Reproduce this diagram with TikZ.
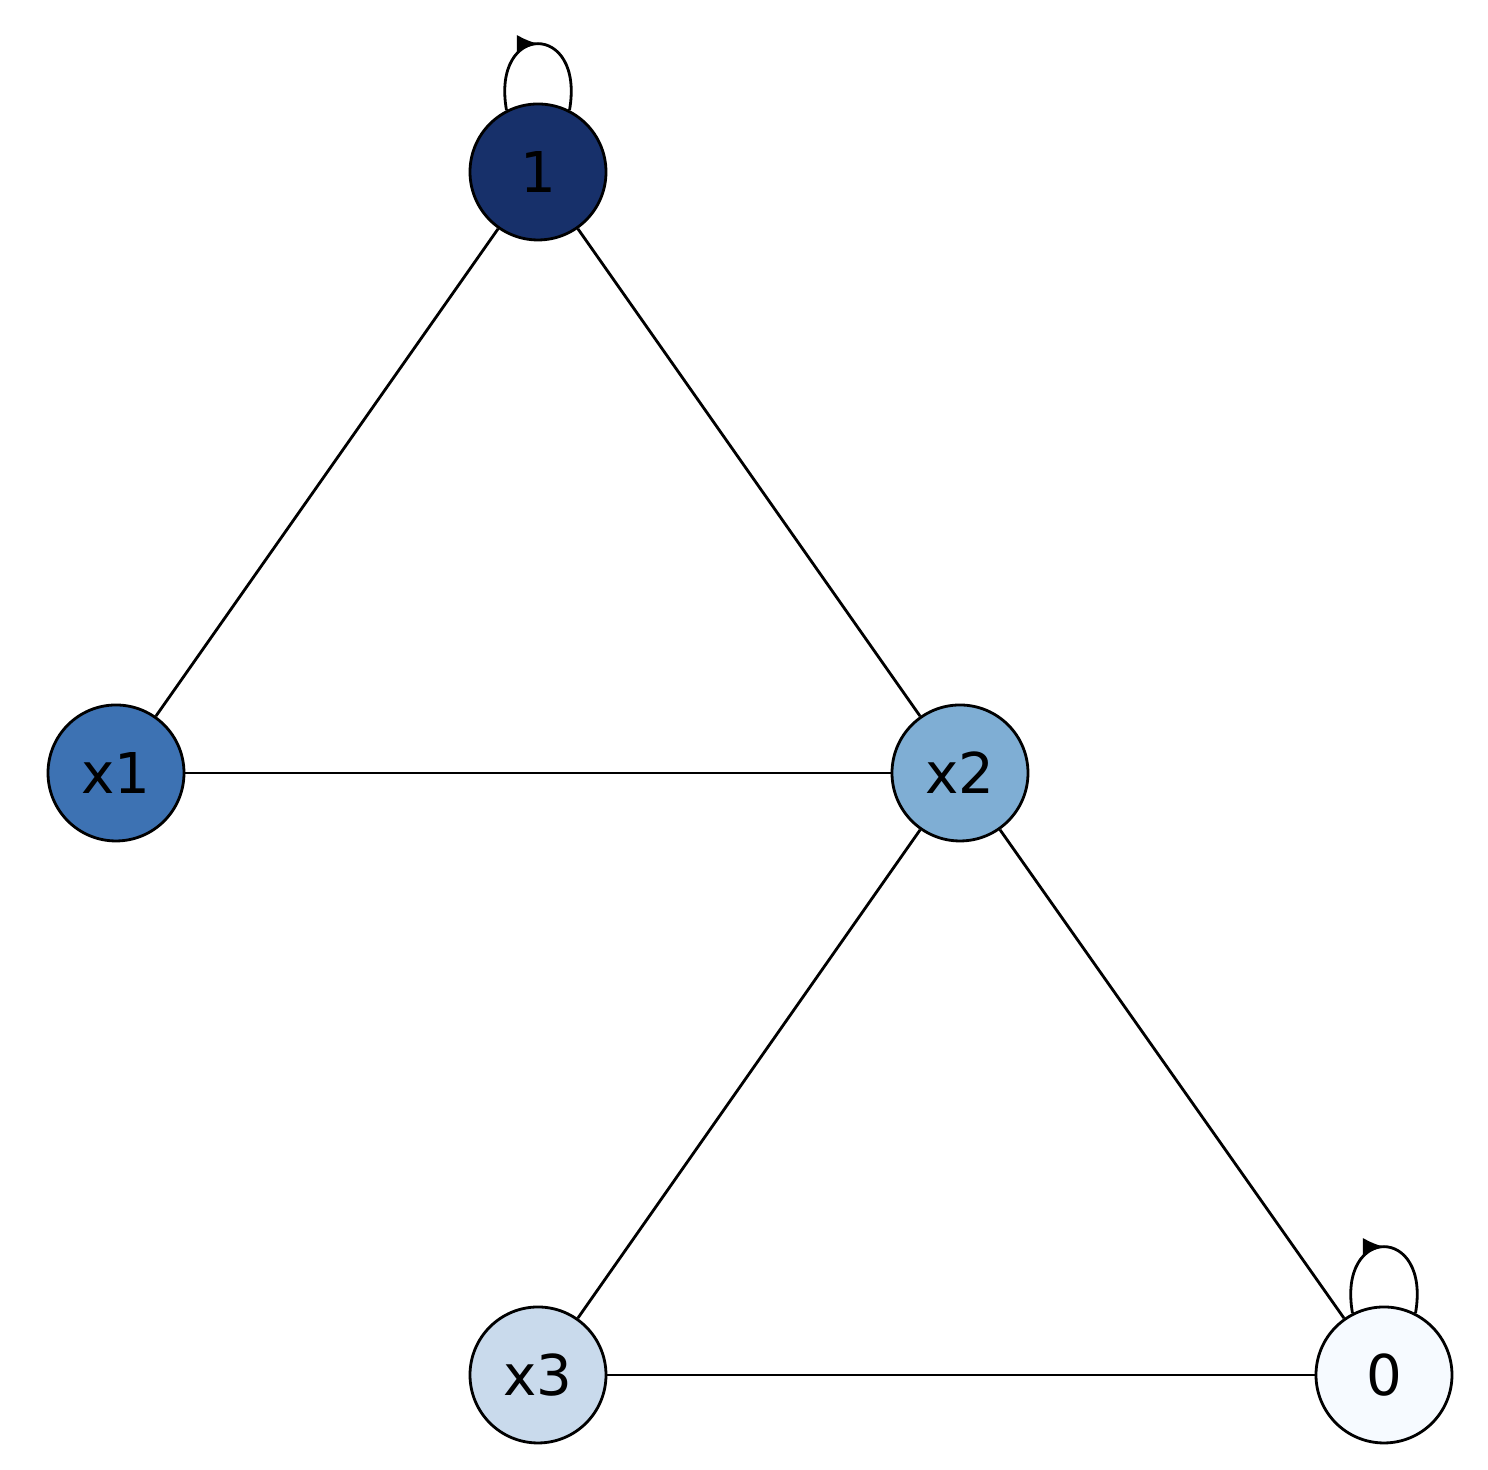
\documentclass[tikz,border=0pt]{standalone}
\usepackage{fontspec}
\setmainfont{DejaVu Sans}
\usetikzlibrary{arrows.meta,decorations.markings}

\definecolor{cone}{HTML}{17306A}
\definecolor{cxone}{HTML}{3D72B3}
\definecolor{cxtwo}{HTML}{7FAED4}
\definecolor{cxthree}{HTML}{C9DAEC}
\definecolor{czero}{HTML}{F6FAFF}

\tikzset{
    vert/.style={circle,draw=black,line width=0.8pt,minimum size=1.36cm,inner sep=0pt,
                 font=\fontsize{16}{18}\selectfont},
    link/.style={line width=0.8pt},
    selfloop/.style={line width=0.8pt,postaction={decorate},
        decoration={markings,mark=at position 0.5 with {\arrow{Latex[length=6pt,width=5pt]}}}}
}

\begin{document}
\begin{tikzpicture}
        \useasboundingbox (0,0) rectangle (14.88,14.70);

        \node[vert,fill=cone]    (n1) at (5.38,12.98) {1};
        \node[vert,fill=cxone]   (x1) at (1.16,6.97)  {x1};
        \node[vert,fill=cxtwo]   (x2) at (9.60,6.97)  {x2};
        \node[vert,fill=cxthree] (x3) at (5.38,0.95)  {x3};
        \node[vert,fill=czero]   (n0) at (13.84,0.95) {0};

        \draw[link] (n1) -- (x1);
        \draw[link] (n1) -- (x2);
        \draw[link] (x1) -- (x2);
        \draw[link] (x2) -- (x3);
        \draw[link] (x2) -- (n0);
        \draw[link] (x3) -- (n0);

        \draw[selfloop] (n1.117) .. controls +(100:0.9) and +(80:0.9) .. (n1.63);
        \draw[selfloop] (n0.117) .. controls +(100:0.9) and +(80:0.9) .. (n0.63);
    \end{tikzpicture}
\end{document}
